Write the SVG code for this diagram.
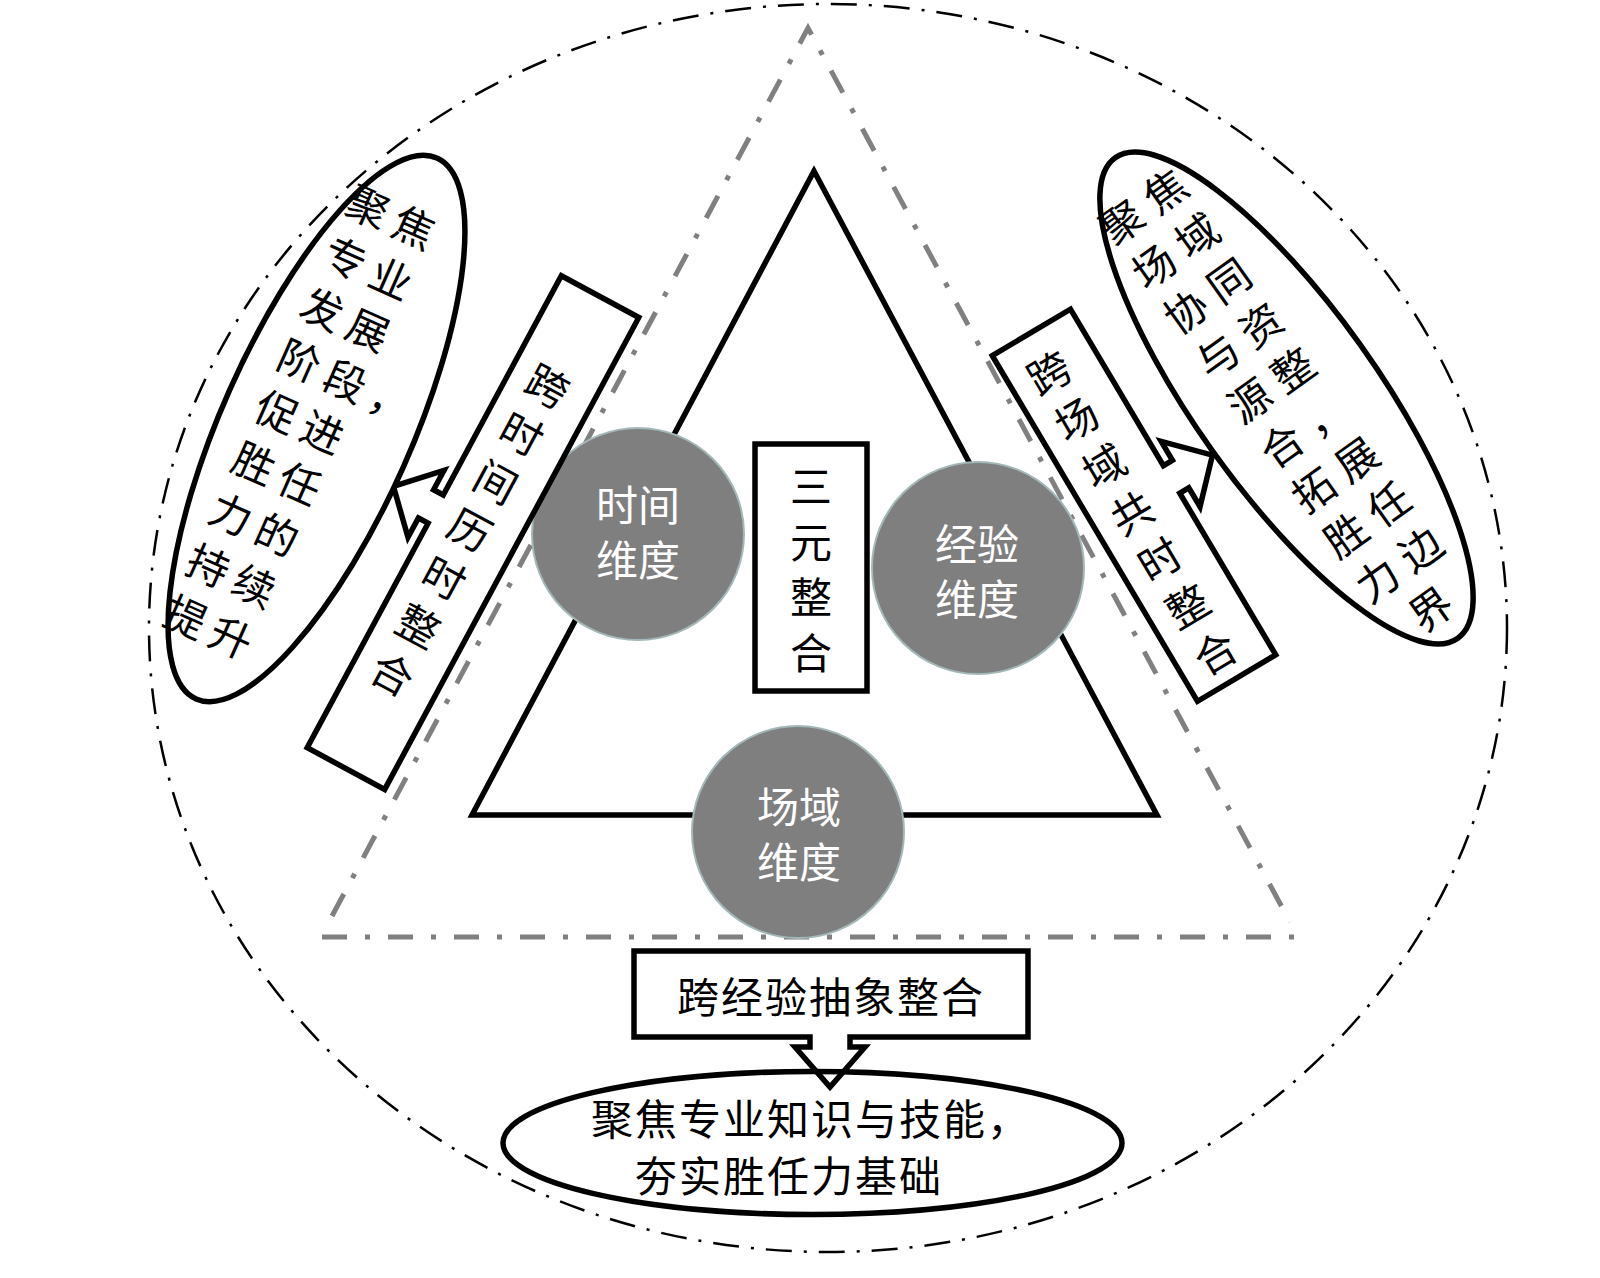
<svg xmlns="http://www.w3.org/2000/svg" width="1600" height="1278" viewBox="0 0 1600 1278">
<style>
.t{font-family:"Noto Sans CJK SC","Noto Sans CJK JP",sans-serif;font-size:42px;fill:#000;text-anchor:middle}
.w{font-family:"Noto Sans CJK SC","Noto Sans CJK JP",sans-serif;font-size:42px;fill:#fff;text-anchor:middle}
.box{fill:#fff;stroke:#000;stroke-width:5.5;stroke-linejoin:miter}
.dim{fill:#7f7f7f;stroke:#a3b8b8;stroke-width:2}
</style>
<rect width="1600" height="1278" fill="#fff"/>
<g id="outer-circle">
<ellipse cx="828" cy="628" rx="679" ry="624" fill="none" stroke="#000" stroke-width="2.5" stroke-dasharray="26 12 3 12"/>
</g>
<g id="gray-triangle" fill="none" stroke="#808080" stroke-width="5" stroke-dasharray="25 18 5 18">
<path d="M332,916 L808,28 L1290,922"/>
<path d="M322,937 L1296,937"/>
</g>
<g id="inner-triangle">
<polygon points="814,171 472,815 1157,815" fill="#fff" stroke="#000" stroke-width="5.5"/>
</g>
<g id="time-dim">
<circle class="dim" cx="638" cy="534" r="106"/>
<text class="w"><tspan x="638" y="521">时间</tspan><tspan x="638" y="576">维度</tspan></text>
</g>
<g id="exp-dim">
<circle class="dim" cx="978" cy="568" r="106"/>
<text class="w"><tspan x="977" y="560">经验</tspan><tspan x="977" y="615">维度</tspan></text>
</g>
<g id="field-dim">
<circle class="dim" cx="798" cy="832" r="106"/>
<text class="w"><tspan x="799" y="823">场域</tspan><tspan x="799" y="878">维度</tspan></text>
</g>
<g id="triple-integration">
<rect class="box" x="755" y="444" width="112" height="247"/>
<text class="t"><tspan x="811" y="502">三</tspan><tspan x="811" y="557.5">元</tspan><tspan x="811" y="613">整</tspan><tspan x="811" y="668.5">合</tspan></text>
</g>
<g id="cross-time" transform="translate(473,532.6) rotate(28.3)">
<polygon class="box" points="-44,-268 44,-268 44,268 -44,268 -44,13 -55,13 -55,35 -92,-3 -55,-41 -55,-19 -44,-19"/>
<text class="t"><tspan x="-4" y="-148.5">跨</tspan><tspan x="-4" y="-94">时</tspan><tspan x="-4" y="-39.5">间</tspan><tspan x="-4" y="15">历</tspan><tspan x="-4" y="69.5">时</tspan><tspan x="-4" y="124">整</tspan><tspan x="-4" y="178.5">合</tspan></text>
</g>
<g id="cross-field" transform="translate(1134,505.25) rotate(-30.7)">
<polygon class="box" points="-45.5,-201 45.5,-201 45.5,-19 56,-19 56,-41 93,-3 56,35 56,13 45.5,13 45.5,201 -45.5,201"/>
<text class="t"><tspan x="-5.6" y="-141.5">跨</tspan><tspan x="-5.6" y="-87.2">场</tspan><tspan x="-5.6" y="-32.9">域</tspan><tspan x="-5.6" y="21.4">共</tspan><tspan x="-5.6" y="75.7">时</tspan><tspan x="-5.6" y="130">整</tspan><tspan x="-5.6" y="184.3">合</tspan></text>
</g>
<g id="left-goal" transform="translate(316.5,428.5) rotate(24)">
<ellipse cx="0" cy="0" rx="95" ry="296" fill="#fff" stroke="#000" stroke-width="5.5"/>
<text class="t"><tspan x="-43 7" y="-207.6">聚焦</tspan><tspan x="-43 7" y="-151.5">专业</tspan><tspan x="-43 7" y="-95.4">发展</tspan><tspan x="-43 7 57" y="-39.3">阶段，</tspan><tspan x="-43 7" y="16.8">促进</tspan><tspan x="-43 7" y="72.9">胜任</tspan><tspan x="-43 7" y="129">力的</tspan><tspan x="-43 7" y="185.1">持续</tspan><tspan x="-43 7" y="241.2">提升</tspan></text>
</g>
<g id="right-goal" transform="translate(1286.5,398) rotate(-35.5)">
<ellipse cx="0" cy="0" rx="91" ry="295" fill="#fff" stroke="#000" stroke-width="5.5"/>
<text class="t"><tspan x="-31.5 21.5" y="-223.3">聚焦</tspan><tspan x="-31.5 21.5" y="-168.3">场域</tspan><tspan x="-31.5 21.5" y="-113.3">协同</tspan><tspan x="-31.5 21.5" y="-58.3">与资</tspan><tspan x="-31.5 21.5" y="-3.3">源整</tspan><tspan x="-31.5 21.5" y="51.7">合，</tspan><tspan x="-31.5 21.5" y="106.7">拓展</tspan><tspan x="-31.5 21.5" y="161.7">胜任</tspan><tspan x="-31.5 21.5" y="216.7">力边</tspan><tspan x="-5" y="271.7">界</tspan></text>
</g>
<g id="bottom-goal">
<ellipse cx="812.5" cy="1143" rx="309.5" ry="71.5" fill="#fff" stroke="#000" stroke-width="5.5"/>
<text class="t" style="text-anchor:start;letter-spacing:2px"><tspan x="591" y="1135">聚焦专业知识与技能，</tspan><tspan x="635" y="1192">夯实胜任力基础</tspan></text>
</g>
<g id="cross-experience">
<polygon points="634,951 1028,951 1028,1037 850,1037 850,1047 865,1047 830,1087 795,1047 810,1047 810,1037 634,1037" fill="none" stroke="#000" stroke-width="5.5"/>
<text class="t" style="letter-spacing:2px" x="831" y="1013">跨经验抽象整合</text>
</g>
<g id="connectors"></g>
</svg>
